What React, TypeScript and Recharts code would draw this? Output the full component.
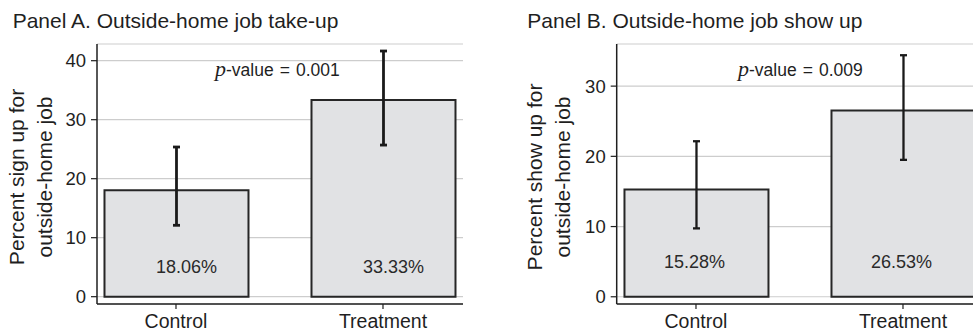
import React from 'react';
import { ComposedChart, Bar, XAxis, YAxis, CartesianGrid, ErrorBar, LabelList, Label } from 'recharts';

const categories = ['Control', 'Treatment'];
const categoryIndex = [0, 1];
const takeUpValues = [18.06, 33.33];
const takeUpLow = [12.1, 25.7];
const takeUpHigh = [25.37, 41.64];
const showUpValues = [15.28, 26.53];
const showUpLow = [9.74, 19.5];
const showUpHigh = [22.15, 34.4];
const takeUpTicks = [0, 10, 20, 30, 40];
const showUpTicks = [0, 10, 20, 30];
const panelTitles = ['Panel A. Outside-home job take-up', 'Panel B. Outside-home job show up'];
const yLabelA = ['Percent sign up for', 'outside-home job'];
const yLabelB = ['Percent show up for', 'outside-home job'];
const pValues = ['0.001', '0.009'];

const build = (vals: number[], low: number[], high: number[]) =>
  categoryIndex.map((i) => ({
    idx: i,
    name: categories[i],
    value: vals[i],
    err: [vals[i] - low[i], high[i] - vals[i]],
  }));

const dataA = build(takeUpValues, takeUpLow, takeUpHigh);
const dataB = build(showUpValues, showUpLow, showUpHigh);

const FONT = '"Liberation Sans", Arial, Helvetica, sans-serif';
const INK = '#1f1f1f';

type PanelProps = {
  data: any[];
  ticks: number[];
  yDomain: [number, number];
  xDomain: [number, number];
  width: number;
  left: number;
  marginLeft: number;
  marginRight: number;
  yLabel: string[];
  yLabelX: [number, number];
  labelDx: number;
  labelUp: number;
  errStroke: number;
};

const Panel = (p: PanelProps) => {
  const yLabelContent = () => (
    <g>
      {p.yLabel.map((line, i) => (
        <text
          key={i}
          x={p.yLabelX[i]}
          y={177}
          transform={`rotate(-90 ${p.yLabelX[i]} 177)`}
          textAnchor="middle"
          fontSize={21}
          fontFamily={FONT}
          fill={INK}
        >
          {line}
        </text>
      ))}
    </g>
  );
  const barLabel = (props: any) => {
    const { x, y, width, height, value } = props;
    return (
      <text
        x={x + width / 2 + p.labelDx}
        y={y + height - p.labelUp}
        textAnchor="middle"
        fontSize={18}
        fontFamily={FONT}
        fill="#2a2a2a"
      >
        {Number(value).toFixed(2) + '%'}
      </text>
    );
  };
  return (
    <div style={{ position: 'absolute', left: p.left, top: 0 }}>
      <ComposedChart
        width={p.width}
        height={332}
        data={p.data}
        margin={{ top: 44, right: p.marginRight, bottom: 0, left: p.marginLeft }}
      >
        <CartesianGrid vertical={false} stroke="#cdcdcd" strokeWidth={1.2} />
        <XAxis
          dataKey="idx"
          type="number"
          domain={p.xDomain}
          allowDataOverflow
          ticks={[0, 1]}
          tickFormatter={(v: number) => categories[v]}
          height={28}
          tickSize={5}
          tickMargin={5}
          axisLine={{ stroke: INK, strokeWidth: 1.5 }}
          tickLine={{ stroke: INK, strokeWidth: 1.2 }}
          tick={{ fontSize: 19.5, fontFamily: FONT, fill: INK }}
        />
        <YAxis
          type="number"
          domain={p.yDomain}
          allowDataOverflow
          ticks={p.ticks}
          width={60}
          tickSize={6}
          tickMargin={5}
          axisLine={{ stroke: INK, strokeWidth: 1.5 }}
          tickLine={{ stroke: INK, strokeWidth: 1.2 }}
          tick={{ fontSize: 18.5, fontFamily: FONT, fill: INK }}
        >
          <Label content={yLabelContent} />
        </YAxis>
        <Bar
          dataKey="value"
          barSize={144}
          fill="#e1e2e4"
          stroke="#262626"
          strokeWidth={2}
          isAnimationActive={false}
        >
          <LabelList dataKey="value" content={barLabel} />
          <ErrorBar dataKey="err" width={3.5} stroke="#1a1a1a" strokeWidth={p.errStroke} direction="y" />
        </Bar>
      </ComposedChart>
    </div>
  );
};

const PText = ({ x, value }: { x: number; value: string }) => (
  <text x={x} y={76} fontSize={17.5} fontFamily={FONT} fill={INK}>
    <tspan fontFamily='"Liberation Serif", "DejaVu Serif", serif' fontStyle="italic" fontSize={22}>
      p
    </tspan>
    <tspan>-value</tspan>
    <tspan dx={6}>=</tspan>
    <tspan dx={6}>{value}</tspan>
  </text>
);

export default function App() {
  return (
    <div
      style={{
        position: 'absolute',
        left: 0,
        top: 0,
        width: 973,
        height: 332,
        overflow: 'hidden',
        background: '#fff',
      }}
    >
      <Panel
        data={dataA}
        ticks={takeUpTicks}
        yDomain={[-1.24, 42.83]}
        xDomain={[-0.3816, 1.3865]}
        width={490}
        left={0}
        marginLeft={37}
        marginRight={27}
        yLabel={yLabelA}
        yLabelX={[23.5, 51.5]}
        labelDx={10}
        labelUp={24}
        errStroke={2.8}
      />
      <Panel
        data={dataB}
        ticks={showUpTicks}
        yDomain={[-1.03, 36]}
        xDomain={[-0.383, 1.3865]}
        width={500}
        left={490}
        marginLeft={66.7}
        marginRight={7}
        yLabel={yLabelB}
        yLabelX={[52, 80]}
        labelDx={-2}
        labelUp={29}
        errStroke={2.3}
      />
      <svg
        width={973}
        height={332}
        style={{ position: 'absolute', left: 0, top: 0, pointerEvents: 'none' }}
      >
        <text x={12.7} y={28} fontSize={21} fontFamily={FONT} fill={INK}>
          {panelTitles[0]}
        </text>
        <text x={527.3} y={28} fontSize={21} fontFamily={FONT} fill={INK}>
          {panelTitles[1]}
        </text>
        <PText x={215} value={pValues[0]} />
        <PText x={738} value={pValues[1]} />
      </svg>
    </div>
  );
}
